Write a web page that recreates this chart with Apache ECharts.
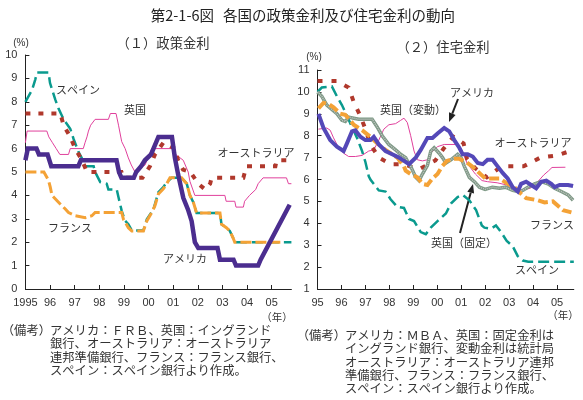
<!DOCTYPE html>
<html>
<head>
<meta charset="utf-8">
<script src="https://cdn.jsdelivr.net/npm/echarts@6/dist/echarts.min.js"></script>
<style>
  html, body { margin: 0; padding: 0; background: #fff; }
  #chart { width: 583px; height: 400px; }
</style>
</head>
<body>
<div id="chart"></div>
<script>
// x軸ラベル
const leftYearLabels = ['1995', '96', '97', '98', '99', '00', '01', '02', '03', '04', '05']
const rightYearLabels = ['95', '96', '97', '98', '99', '00', '01', '02', '03', '04', '05']

// （１）政策金利 [年, %]
const usPolicy = [[1995.0, 5.5], [1995.1, 6.0], [1995.45, 6.0], [1995.55, 5.75], [1995.9, 5.75], [1996.05, 5.25], [1997.15, 5.25], [1997.25, 5.5], [1998.7, 5.5], [1998.8, 5.0], [1998.9, 4.75], [1999.4, 4.75], [1999.5, 5.0], [1999.7, 5.25], [1999.85, 5.5], [2000.1, 5.75], [2000.2, 6.0], [2000.4, 6.5], [2000.95, 6.5], [2001.07, 5.6], [2001.2, 4.9], [2001.41, 3.9], [2001.6, 3.4], [2001.75, 2.9], [2001.88, 2.0], [2002.02, 1.75], [2002.8, 1.75], [2002.9, 1.25], [2003.45, 1.25], [2003.55, 1.0], [2004.45, 1.0], [2004.55, 1.25], [2005.73, 3.6]]
const ukPolicy = [[1995.0, 6.25], [1995.07, 6.75], [1995.87, 6.75], [1995.95, 6.5], [1996.1, 6.25], [1996.25, 6.0], [1996.4, 5.75], [1996.75, 5.75], [1996.82, 6.0], [1997.35, 6.0], [1997.42, 6.25], [1997.5, 6.5], [1997.56, 6.75], [1997.65, 7.0], [1997.83, 7.25], [1998.37, 7.25], [1998.45, 7.5], [1998.68, 7.5], [1998.78, 7.0], [1998.91, 6.3], [1999.05, 6.0], [1999.18, 5.6], [1999.3, 5.3], [1999.45, 5.0], [1999.65, 5.15], [1999.86, 5.3], [2000.13, 6.0], [2001.0, 6.0], [2001.1, 5.75], [2001.41, 5.5], [2001.61, 5.0], [2001.68, 4.6], [2001.88, 4.0], [2003.1, 4.0], [2003.15, 3.75], [2003.5, 3.75], [2003.55, 3.5], [2003.85, 3.5], [2003.9, 3.75], [2004.1, 4.0], [2004.35, 4.25], [2004.45, 4.5], [2004.65, 4.75], [2005.6, 4.75], [2005.68, 4.5], [2005.8, 4.5]]
const auPolicy = [[1995.0, 7.5], [1996.42, 7.5], [1996.55, 7.0], [1996.82, 6.5], [1997.02, 6.0], [1997.3, 5.5], [1997.5, 5.0], [1998.9, 5.0], [1998.98, 4.75], [1999.75, 4.75], [2000.06, 5.25], [2000.26, 5.75], [2000.6, 6.25], [2001.07, 6.0], [2001.2, 5.5], [2001.4, 5.1], [2001.7, 5.0], [2001.89, 4.7], [2002.02, 4.5], [2002.3, 4.25], [2002.5, 4.5], [2002.56, 4.75], [2003.85, 4.75], [2003.97, 5.25], [2005.15, 5.25], [2005.2, 5.5], [2005.8, 5.5]]
const frPolicy = [[1995.0, 5.0], [1995.75, 5.0], [1995.94, 4.64], [1996.01, 4.35], [1996.08, 4.0], [1996.48, 3.56], [1996.62, 3.42], [1996.75, 3.27], [1996.89, 3.2], [1997.02, 3.13], [1997.43, 3.05], [1997.7, 3.13], [1997.83, 3.27], [1998.91, 3.27], [1998.98, 2.98], [1999.18, 2.62], [1999.32, 2.48], [1999.79, 2.48], [1999.93, 2.91], [2000.13, 3.27], [2000.26, 3.56], [2000.4, 4.06], [2000.6, 4.28], [2000.74, 4.5], [2000.87, 4.75], [2001.34, 4.75], [2001.55, 4.5], [2001.68, 4.0], [2001.82, 3.7], [2001.95, 3.25], [2002.9, 3.25], [2002.96, 2.77], [2003.16, 2.62], [2003.3, 2.48], [2003.43, 2.19], [2003.5, 2.0], [2005.35, 2.0]]
const esPolicy = [[1995.0, 8.0], [1995.27, 8.5], [1995.4, 8.95], [1995.47, 9.25], [1995.94, 9.25], [1996.0, 8.8], [1996.21, 8.1], [1996.35, 7.7], [1996.55, 7.25], [1996.82, 6.85], [1996.96, 6.4], [1997.16, 5.85], [1997.29, 5.6], [1997.43, 5.25], [1997.77, 5.25], [1997.83, 5.0], [1998.04, 4.57], [1998.3, 4.5], [1998.37, 4.25], [1998.71, 4.25], [1998.78, 3.92], [1998.91, 3.34], [1999.05, 2.91], [1999.18, 2.77], [1999.32, 2.5], [1999.79, 2.5], [1999.93, 2.98], [2000.2, 3.41], [2000.4, 4.14], [2000.6, 4.35], [2000.74, 4.57], [2000.94, 4.75], [2001.34, 4.75], [2001.55, 4.5], [2001.68, 4.0], [2001.82, 3.7], [2001.95, 3.25], [2002.9, 3.25], [2002.96, 2.77], [2003.16, 2.62], [2003.3, 2.48], [2003.43, 2.19], [2003.5, 2.0], [2005.8, 2.0]]

// （２）住宅金利 [年, %]
const usHousing = [[1995.04, 9.0], [1995.25, 8.35], [1995.53, 7.8], [1995.81, 7.5], [1996.09, 7.3], [1996.23, 7.65], [1996.44, 8.2], [1996.58, 8.25], [1996.79, 7.95], [1997.0, 7.8], [1997.21, 7.8], [1997.35, 7.95], [1997.56, 7.6], [1997.84, 7.3], [1998.12, 7.15], [1998.4, 7.0], [1998.61, 6.85], [1998.82, 6.7], [1999.1, 7.0], [1999.31, 7.35], [1999.59, 7.9], [1999.8, 7.9], [2000.01, 8.1], [2000.29, 8.35], [2000.5, 8.2], [2000.71, 7.8], [2000.92, 7.45], [2001.06, 7.15], [2001.27, 7.15], [2001.48, 7.05], [2001.69, 6.75], [2001.9, 6.7], [2002.1, 6.9], [2002.31, 6.9], [2002.52, 6.6], [2002.73, 6.3], [2002.94, 6.05], [2003.15, 5.65], [2003.36, 5.45], [2003.5, 5.8], [2003.71, 5.9], [2003.92, 5.75], [2004.13, 5.6], [2004.34, 5.9], [2004.55, 5.95], [2004.76, 5.8], [2004.9, 5.65], [2005.11, 5.75], [2005.46, 5.75], [2005.67, 5.7]]
const ukVarHousing = [[1995.04, 8.3], [1995.39, 8.35], [1995.53, 8.25], [1995.67, 7.9], [1995.88, 7.45], [1996.09, 7.2], [1996.3, 7.05], [1996.58, 7.05], [1996.86, 7.1], [1997.14, 7.3], [1997.35, 7.35], [1997.56, 7.8], [1997.77, 8.3], [1997.98, 8.5], [1998.26, 8.55], [1998.47, 8.7], [1998.61, 8.8], [1998.75, 8.6], [1998.89, 8.0], [1999.03, 7.3], [1999.17, 6.9], [1999.38, 6.85], [1999.59, 6.9], [1999.73, 7.2], [2000.01, 7.5], [2000.29, 7.6], [2000.85, 7.6], [2001.03, 7.35], [2001.24, 6.75], [2001.59, 6.25], [2001.87, 5.95], [2002.1, 5.9], [2002.5, 5.85], [2002.9, 5.75], [2003.2, 5.5], [2003.5, 5.5], [2003.88, 5.6], [2004.2, 5.9], [2004.44, 6.2], [2004.65, 6.4], [2004.79, 6.55], [2005.35, 6.56]]
const ukFixHousing = [[1995.0, 10.0], [1995.18, 9.8], [1995.39, 9.4], [1995.6, 9.2], [1995.81, 9.0], [1996.02, 8.7], [1996.16, 8.65], [1996.3, 8.85], [1996.51, 8.8], [1996.72, 8.75], [1997.28, 8.75], [1997.49, 8.4], [1997.7, 8.0], [1997.98, 7.6], [1998.26, 7.35], [1998.47, 7.15], [1998.68, 7.0], [1998.82, 6.7], [1998.89, 6.6], [1999.1, 6.1], [1999.24, 5.95], [1999.38, 6.25], [1999.59, 6.65], [1999.73, 7.3], [1999.87, 7.45], [2000.08, 7.2], [2000.22, 7.0], [2000.36, 6.75], [2000.57, 6.9], [2000.85, 7.15], [2000.99, 7.0], [2001.13, 6.6], [2001.34, 6.1], [2001.55, 5.9], [2001.76, 5.65], [2002.0, 5.55], [2002.3, 5.65], [2002.6, 5.6], [2002.85, 5.65], [2003.15, 5.5], [2003.36, 5.45], [2003.57, 5.5], [2003.78, 5.65], [2004.06, 5.8], [2004.34, 5.9], [2004.62, 5.8], [2004.9, 5.6], [2005.18, 5.45], [2005.46, 5.3], [2005.67, 5.05]]
const auHousing = [[1995.0, 10.5], [1995.81, 10.5], [1996.3, 10.2], [1996.51, 9.55], [1996.79, 8.9], [1997.0, 8.3], [1997.21, 7.6], [1997.56, 7.0], [1998.05, 6.7], [1998.6, 6.7], [1999.0, 6.55], [1999.3, 6.5], [1999.92, 6.87], [2000.26, 7.4], [2000.68, 7.95], [2001.1, 7.65], [2001.24, 6.95], [2001.6, 6.5], [2002.07, 6.1], [2002.56, 6.5], [2002.9, 6.6], [2003.6, 6.6], [2004.3, 7.0], [2005.0, 7.1], [2005.55, 7.3]]
const frHousing = [[1995.04, 9.25], [1995.25, 9.5], [1995.46, 9.45], [1995.67, 9.3], [1995.95, 9.0], [1996.16, 8.95], [1996.37, 8.7], [1996.51, 8.5], [1996.86, 8.25], [1997.21, 7.95], [1997.49, 7.65], [1997.84, 7.35], [1998.05, 7.2], [1998.33, 7.0], [1998.61, 6.6], [1998.68, 6.4], [1998.89, 6.25], [1999.17, 6.1], [1999.38, 5.8], [1999.59, 5.75], [1999.8, 6.05], [2000.01, 6.25], [2000.2, 6.6], [2000.4, 6.85], [2000.7, 6.95], [2000.9, 6.95], [2001.2, 6.8], [2001.45, 6.6], [2001.7, 6.35], [2002.0, 6.05], [2002.6, 6.05], [2002.94, 5.8], [2003.22, 5.65], [2003.5, 5.35], [2003.71, 5.15], [2004.2, 5.05], [2004.48, 4.95], [2004.83, 5.0], [2005.25, 4.6], [2005.6, 4.5]]
const esHousing = [[1995.0, 10.0], [1995.18, 10.2], [1995.6, 10.25], [1995.81, 9.8], [1996.02, 9.4], [1996.23, 8.9], [1996.44, 8.4], [1996.65, 7.9], [1996.86, 7.3], [1997.0, 6.8], [1997.14, 6.15], [1997.21, 6.0], [1997.56, 5.5], [1997.84, 5.45], [1998.05, 5.1], [1998.33, 4.75], [1998.61, 4.7], [1998.82, 4.2], [1999.03, 4.1], [1999.31, 3.6], [1999.52, 3.5], [1999.73, 3.8], [2000.01, 4.1], [2000.36, 4.45], [2000.57, 4.9], [2000.85, 5.2], [2001.06, 5.3], [2001.34, 5.05], [2001.62, 4.6], [2001.86, 3.9], [2001.97, 3.8], [2002.24, 3.75], [2002.45, 3.9], [2002.66, 3.6], [2002.9, 3.2], [2003.15, 2.95], [2003.36, 2.5], [2003.57, 2.3], [2003.8, 2.25], [2005.7, 2.25]]

const JP = '"Noto Sans CJK JP", sans-serif'
const NUM = '"Liberation Sans", Arial, sans-serif'

const chart = echarts.init(document.getElementById('chart'), null, { renderer: 'canvas' })

function xAxisOf(gridIndex, max, labels) {
  return {
    type: 'value', gridIndex, min: 1995, max, interval: 1,
    axisLine: { lineStyle: { color: '#222', width: 1 } },
    axisTick: { inside: true, length: 4, lineStyle: { color: '#222' } },
    axisLabel: {
      color: '#333', fontSize: 11, fontFamily: NUM, margin: 8, showMaxLabel: false,
      formatter: (v) => (Math.abs(v - Math.round(v)) < 1e-6 ? labels[Math.round(v) - 1995] || '' : ''),
    },
    splitLine: { show: false },
  }
}

function yAxisOf(gridIndex, min, max) {
  return {
    type: 'value', gridIndex, min, max, interval: 1,
    axisLine: { show: true, lineStyle: { color: '#222', width: 1 } },
    axisTick: { show: true, inside: true, length: 4, lineStyle: { color: '#222' } },
    axisLabel: { color: '#333', fontSize: 11, fontFamily: NUM, margin: 8 },
    splitLine: { show: false },
  }
}

function line(data, idx, color, width, type, z) {
  return {
    type: 'line', xAxisIndex: idx, yAxisIndex: idx, data,
    symbol: 'none', showSymbol: false, silent: true, z,
    lineStyle: { color, width, type, cap: 'butt', join: 'miter' },
  }
}

function txt(text, x, y, size, align) {
  return {
    type: 'text', x, y, silent: true,
    style: { text, fill: '#333', font: `${size}px ${JP}`, textAlign: align || 'center', textVerticalAlign: 'middle' },
  }
}

function block(text, x, y, align) {
  return {
    type: 'text', x, y, silent: true,
    style: { text, fill: '#333', font: `12.3px ${JP}`, lineHeight: 13.4, textAlign: align || 'left', textVerticalAlign: 'top' },
  }
}

function arrow(x1, y1, x2, y2) {
  const a = Math.atan2(y2 - y1, x2 - x1), L = 9, W = 3.5
  const bx = x2 - L * Math.cos(a), by = y2 - L * Math.sin(a)
  const px = -Math.sin(a) * W, py = Math.cos(a) * W
  return [
    { type: 'line', silent: true, shape: { x1, y1, x2: bx, y2: by }, style: { stroke: '#222', lineWidth: 2 } },
    { type: 'polygon', silent: true, shape: { points: [[x2, y2], [bx + px, by + py], [bx - px, by - py]] }, style: { fill: '#222' } },
  ]
}

chart.setOption({
  animation: false,
  grid: [
    { left: 25.4, top: 55, width: 266, height: 234 },
    { left: 317.5, top: 70, width: 256.3, height: 219 },
  ],
  xAxis: [xAxisOf(0, 2005.8, leftYearLabels), xAxisOf(1, 2005.7, rightYearLabels)],
  yAxis: [yAxisOf(0, 0, 10), yAxisOf(1, 1, 11)],
  series: [
    line(esPolicy, 0, '#0a9a8e', 2.5, [11, 5], 2),
    line(frPolicy, 0, '#f4a236', 3, [11, 4], 3),
    line(ukPolicy, 0, '#e0409c', 1, 'solid', 4),
    line(auPolicy, 0, '#b0382c', 4, [5, 8], 5),
    line(usPolicy, 0, '#4b2d8f', 4.5, 'solid', 6),

    line(esHousing, 1, '#0a9a8e', 2.5, [11, 5], 2),
    line(ukVarHousing, 1, '#e0409c', 1, 'solid', 3),
    line(auHousing, 1, '#b0382c', 4, [5, 9], 4),
    line(ukFixHousing, 1, '#7d9985', 3.5, 'solid', 5),
    line(ukFixHousing, 1, '#c4c4c4', 1.5, [1, 1], 5),
    line(frHousing, 1, '#f4a236', 4, [10, 4], 6),
    line(usHousing, 1, '#5448b8', 4, 'solid', 7),
  ],
  graphic: [
    { type: 'text', x: 214, y: 15, silent: true, style: { text: '第2-1-6図', fill: '#222', font: `14.5px ${JP}`, textAlign: 'right', textVerticalAlign: 'middle' } },
    { type: 'text', x: 223, y: 15, silent: true, style: { text: '各国の政策金利及び住宅金利の動向', fill: '#222', font: `14.5px ${JP}`, textAlign: 'left', textVerticalAlign: 'middle' } },
    txt('（１）政策金利', 163, 43, 13.3),
    txt('（２）住宅金利', 443, 47, 13.3),
    { type: 'text', x: 21, y: 43, silent: true, style: { text: '(%)', fill: '#333', font: `10px ${NUM}`, textAlign: 'center', textVerticalAlign: 'middle' } },
    { type: 'text', x: 314, y: 57, silent: true, style: { text: '(%)', fill: '#333', font: `10px ${NUM}`, textAlign: 'center', textVerticalAlign: 'middle' } },
    txt('（年）', 277, 317, 10.5),
    txt('（年）', 563, 315, 10.5),

    txt('スペイン', 78, 90, 11),
    txt('英国', 135, 110, 11),
    txt('オーストラリア', 256, 153, 11),
    txt('フランス', 70, 228, 11),
    txt('アメリカ', 185, 259, 11),

    txt('英国（変動）', 413, 110, 11),
    txt('アメリカ', 472, 93, 11),
    txt('オーストラリア', 533, 143, 11),
    txt('英国（固定）', 464, 243, 11),
    txt('フランス', 552, 225, 11),
    txt('スペイン', 537, 270, 11),
    ...arrow(458, 99, 449, 122),
    ...arrow(460, 233, 473, 184),

    block('（備考）', 51, 323.5, 'right'),
    block('アメリカ：ＦＲＢ、英国：イングランド\n銀行、オーストラリア：オーストラリア\n連邦準備銀行、フランス：フランス銀行、\nスペイン：スペイン銀行より作成。', 50, 323.5),
    block('（備考）', 346, 328.5, 'right'),
    block('アメリカ：ＭＢＡ、英国：固定金利は\nイングランド銀行、変動金利は統計局\nオーストラリア：オーストラリア連邦\n準備銀行、フランス：フランス銀行、\nスペイン：スペイン銀行より作成。', 345, 328.5),
  ],
})
</script>
</body>
</html>
